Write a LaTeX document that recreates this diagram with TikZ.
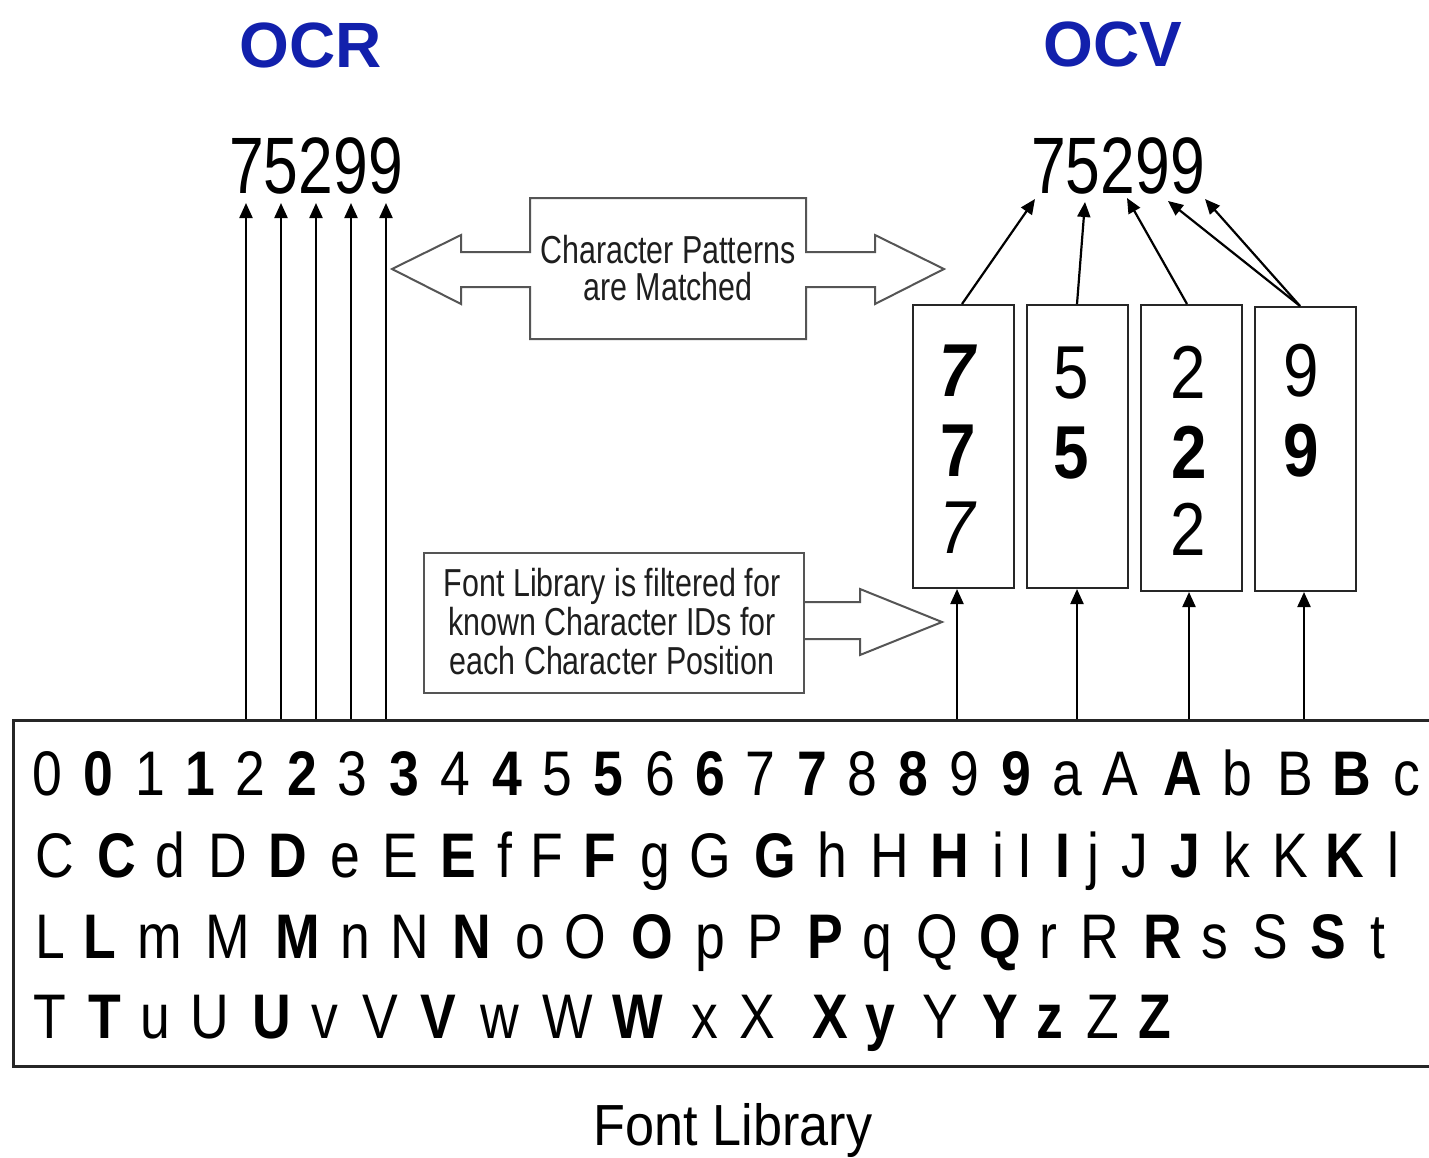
\documentclass[tikz,border=0pt]{standalone}
\usepackage{fontspec}
\setmainfont{Liberation Sans}
\newfontfamily\narA[FakeStretch=0.78]{Liberation Sans}
\newfontfamily\narB[FakeStretch=0.9]{Liberation Sans}
\newfontfamily\libf[FakeStretch=0.85]{Liberation Sans}
\usetikzlibrary{arrows.meta}
\definecolor{titleblue}{RGB}{18,32,172}
\definecolor{callgray}{RGB}{85,85,85}
\definecolor{txtgray}{RGB}{30,30,30}
\tikzset{
  arr/.style={line width=2.2pt,-{Triangle[length=15pt,width=13pt]}},
  reg/.style={font=\libf\fontsize{63}{70}\selectfont},
  bld/.style={font=\libf\bfseries\fontsize{63}{70}\selectfont},
  libch/.style={anchor=base,inner sep=0pt},
  title/.style={font=\bfseries\fontsize{64}{70}\selectfont,text=titleblue,anchor=base,inner sep=0pt},
  bignum/.style={font=\narA\fontsize{80}{90}\selectfont,anchor=base,inner sep=0pt},
  calltext/.style={font=\narA\fontsize{39}{40}\selectfont,text=txtgray,align=center,inner sep=0pt},
  callout/.style={draw=callgray,line width=2pt},
  candbox/.style={draw=black!85,line width=2pt,minimum width=101pt,anchor=north west,inner sep=0pt},
  boxdigit/.style={anchor=base,inner sep=0pt},
}
\begin{document}
\begin{tikzpicture}[x=1pt,y=-1pt]
\useasboundingbox[fill=white] (0,0) rectangle (1429,1157);

% titles
\node[title] (ocr) at (311,67) {OCR};
\node[title] (ocv) at (1113,66) {OCV};

% read strings
\node[bignum] (ocrnum) at (316,193) {75299};
\node[bignum] (ocvnum) at (1118,193) {75299};

% font library box
\node[draw=black!85,line width=3pt,anchor=north west,minimum width=1460pt,minimum height=346pt,inner sep=0pt] (lib) at (12,719) {};

% library characters
\foreach \x/\c/\s [count=\i] in {47/0/reg,98/0/bld,150/1/reg,200/1/bld,250/2/reg,302/2/bld,352/3/reg,404/3/bld,455/4/reg,507/4/bld,557/5/reg,608/5/bld,660/6/reg,710/6/bld,760/7/reg,812/7/bld,862/8/reg,913/8/bld,964/9/reg,1016/9/bld,1067/a/reg,1120/A/reg,1183/A/bld,1237/b/reg,1295/B/reg,1352/B/bld,1407/c/reg}
  \node[libch,\s] (ra\i) at (\x,795) {\c};
\foreach \x/\c/\s [count=\i] in {55/C/reg,117/C/bld,170/d/reg,228/D/reg,288/D/bld,345/e/reg,400/E/reg,458/E/bld,505/f/reg,547/F/reg,600/F/bld,655/g/reg,710/G/reg,775/G/bld,832/h/reg,890/H/reg,950/H/bld,998/i/reg,1025/I/reg,1063/I/bld,1093/j/reg,1135/J/reg,1185/J/bld,1237/k/reg,1290/K/reg,1345/K/bld,1393/l/reg}
  \node[libch,\s] (rb\i) at (\x,877) {\c};
\foreach \x/\c/\s [count=\i] in {50/L/reg,100/L/bld,160/m/reg,228/M/reg,298/M/bld,355/n/reg,410/N/reg,472/N/bld,530/o/reg,585/O/reg,652/O/bld,710/p/reg,765/P/reg,825/P/bld,877/q/reg,937/Q/reg,1000/Q/bld,1048/r/reg,1100/R/reg,1163/R/bld,1215/s/reg,1270/S/reg,1328/S/bld,1378/t/reg}
  \node[libch,\s] (rc\i) at (\x,958) {\c};
\foreach \x/\c/\s [count=\i] in {50/T/reg,105/T/bld,155/u/reg,210/U/reg,272/U/bld,325/v/reg,380/V/reg,438/V/bld,500/w/reg,568/W/reg,638/W/bld,705/x/reg,757/X/reg,830/X/bld,880/y/bld,940/Y/reg,1000/Y/bld,1050/z/bld,1103/Z/reg,1155/Z/bld}
  \node[libch,\s] (rd\i) at (\x,1038) {\c};

\node[font=\narB\fontsize{58}{60}\selectfont,anchor=base,inner sep=0pt] (libname) at (733,1145) {Font Library};

% OCR arrows
\foreach \x [count=\i] in {246,281,316,351,386} {
  \coordinate (ot\i) at (\x,203);
  \draw[arr] (lib.north -| ot\i) -- (ot\i);
}

% candidate boxes
\node[candbox,minimum height=283pt] (b1) at (912,304) {};
\node[candbox,minimum height=283pt] (b2) at (1026,304) {};
\node[candbox,minimum height=286pt] (b3) at (1140,304) {};
\node[candbox,minimum height=284pt] (b4) at (1254,306) {};

\node[boxdigit,font=\libf\bfseries\itshape\fontsize{75}{80}\selectfont] (d11) at (957,396) {7};
\node[boxdigit,font=\libf\bfseries\fontsize{75}{80}\selectfont] (d12) at (958,476) {7};
\node[boxdigit,font=\libf\itshape\fontsize{75}{80}\selectfont] (d13) at (957,553) {7};
\node[boxdigit,font=\libf\fontsize{75}{80}\selectfont] (d21) at (1071,398) {5};
\node[boxdigit,font=\libf\bfseries\fontsize{75}{80}\selectfont] (d22) at (1071,478) {5};
\node[boxdigit,font=\libf\fontsize{75}{80}\selectfont] (d31) at (1188,398) {2};
\node[boxdigit,font=\libf\bfseries\fontsize{75}{80}\selectfont] (d32) at (1189,478) {2};
\node[boxdigit,font=\libf\fontsize{75}{80}\selectfont] (d33) at (1188,555) {2};
\node[boxdigit,font=\libf\fontsize{75}{80}\selectfont] (d41) at (1301,396) {9};
\node[boxdigit,font=\libf\bfseries\fontsize{75}{80}\selectfont] (d42) at (1301,476) {9};

% arrows from library into boxes
\coordinate (lb1) at (957,0);
\coordinate (lb2) at (1077,0);
\coordinate (lb3) at (1189,0);
\coordinate (lb4) at (1304,0);
\draw[arr] (lib.north -| lb1) -- (b1.south -| lb1);
\draw[arr] (lib.north -| lb2) -- (b2.south -| lb2);
\draw[arr] (lib.north -| lb3) -- (b3.south -| lb3);
\draw[arr] (lib.north -| lb4) -- (b4.south -| lb4);

% arrows from boxes up to OCV string
\coordinate (vt1) at (1035,199);
\coordinate (vt2) at (1085,202);
\coordinate (vt3) at (1127,198);
\coordinate (vt4) at (1168,201);
\coordinate (vt5) at (1205,199);
\coordinate (vs1) at (962,0);
\coordinate (vs2) at (1077,0);
\coordinate (vs3) at (1187,0);
\coordinate (vs4) at (1300,0);
\draw[arr] (b1.north -| vs1) -- (vt1);
\draw[arr] (b2.north -| vs2) -- (vt2);
\draw[arr] (b3.north -| vs3) -- (vt3);
\draw[arr] (b4.north -| vs4) -- (vt4);
\draw[arr] (b4.north -| vs4) -- (vt5);

% double arrow callout
\draw[callout,line join=miter] (392,269) -- (461,235) -- (461,252) -- (530,252) -- (530,198) -- (806,198) -- (806,252) -- (875,252) -- (875,235) -- (944,269) -- (875,304) -- (875,287) -- (806,287) -- (806,339) -- (530,339) -- (530,287) -- (461,287) -- (461,304) -- cycle;
\node[calltext] (match) at (668,268) {Character Patterns\\[-3pt]are Matched};

% filter callout
\node[draw=callgray,line width=2pt,minimum width=380pt,minimum height=140pt,anchor=north west,inner sep=0pt] (filt) at (423,552) {};
\draw[callout,line join=miter] (filt.east |- 0,602) -- (860,602) -- (860,589) -- (942,622) -- (860,655) -- (860,639) -- (filt.east |- 0,639);
\node[calltext,align=center] (filttext) at (612,622) {Font Library is filtered for\\[-1pt]known Character IDs for\\[-1pt]each Character Position};
\end{tikzpicture}
\end{document}
